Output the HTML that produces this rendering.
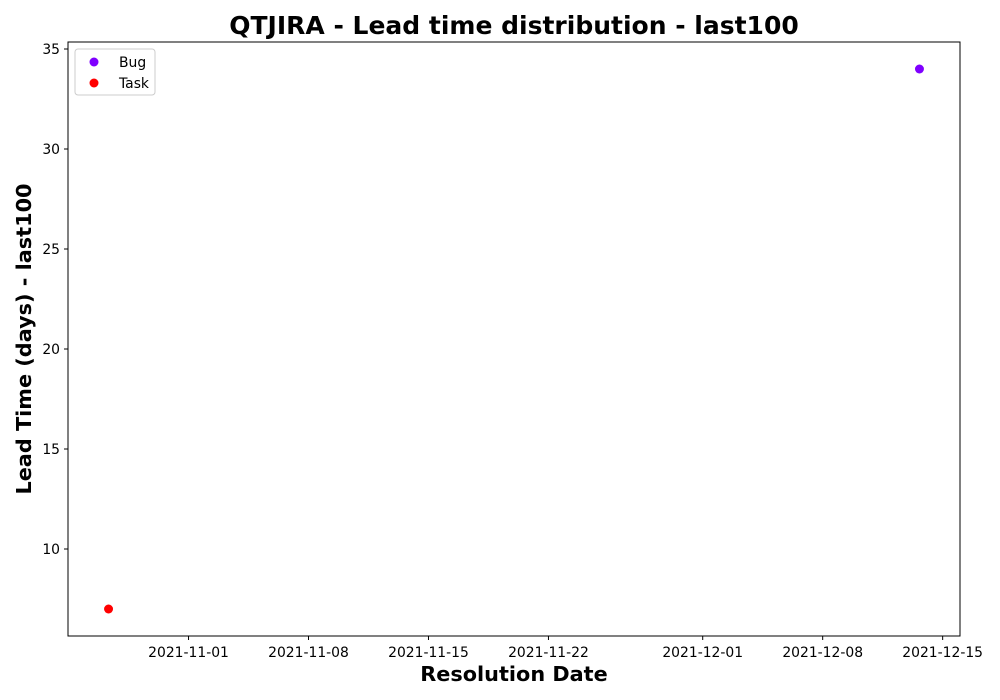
<!DOCTYPE html>
<html><head><meta charset="utf-8"><style>
html,body{margin:0;padding:0;background:#fff;}
svg{display:block;font-family:"DejaVu Sans","Liberation Sans",sans-serif;}
</style></head><body>
<svg id="chart" width="1000" height="700">
<text x="514" y="34" text-anchor="middle" font-size="25" font-weight="bold">QTJIRA - Lead time distribution - last100</text>
<text x="514" y="681" text-anchor="middle" font-size="20.8" font-weight="bold">Resolution Date</text>
<text transform="translate(31,339) rotate(-90)" text-anchor="middle" font-size="20.8" font-weight="bold">Lead Time (days) - last100</text>
<g id="plot"></g>
</svg>
<script>
const seriesNames = ["Bug", "Task"];
const seriesColors = ["#7f00ff", "#ff0000"];
const bugDates = ["2021-12-13T15:30:00Z"];
const bugValues = [34];
const taskDates = ["2021-10-27T08:00:00Z"];
const taskValues = [7];
const xTickLabels = ["2021-11-01","2021-11-08","2021-11-15","2021-11-22","2021-12-01","2021-12-08","2021-12-15"];
const yTickValues = [10, 15, 20, 25, 30, 35];

const L=68,R=960,T=42,B=636;
const ns="http://www.w3.org/2000/svg";
const g=document.getElementById("plot");
function mk(tag,attrs){const e=document.createElementNS(ns,tag);for(const k in attrs)e.setAttribute(k,attrs[k]);g.appendChild(e);return e;}
const allT=[...bugDates,...taskDates].map(d=>Date.parse(d));
const allV=[...bugValues,...taskValues];
let tmin=Math.min(...allT),tmax=Math.max(...allT),tr=tmax-tmin;tmin-=tr*0.05;tmax+=tr*0.05;
let vmin=Math.min(...allV),vmax=Math.max(...allV),vr=vmax-vmin;vmin-=vr*0.05;vmax+=vr*0.05;
const xs=t=>L+(t-tmin)/(tmax-tmin)*(R-L);
const ys=v=>B-(v-vmin)/(vmax-vmin)*(B-T);

const frame=mk("rect",{x:L,y:T,width:R-L,height:B-T,fill:"none",stroke:"#000","stroke-width":1});



xTickLabels.forEach(lbl=>{
  const x=xs(Date.parse(lbl+"T00:00:00Z"));
  if(x<L||x>R)return;
  const tk=mk("line",{x1:x,x2:x,y1:B,y2:B+4,stroke:"#000"});
  
  
  const tx=mk("text",{x:x,y:B+21,"text-anchor":"middle","font-size":13.9});
  tx.textContent=lbl;
  
  
});
yTickValues.forEach(v=>{
  const y=ys(v);
  if(y<T-1||y>B)return;
  const tk=mk("line",{x1:L-4,x2:L,y1:y,y2:y,stroke:"#000"});
  
  
  const tx=mk("text",{x:L-8,y:y+5,"text-anchor":"end","font-size":13.9});
  tx.textContent=v;
  
  
});
[[bugDates,bugValues,seriesColors[0],"bug-point"],[taskDates,taskValues,seriesColors[1],"task-point"]].forEach(([ds,vs,c,n])=>{
  ds.forEach((d,i)=>{
    const p=mk("circle",{cx:xs(Date.parse(d)),cy:ys(vs[i]),r:4.5,fill:c});
    
    
  });
});
const lg=mk("rect",{x:75,y:49,width:80,height:46,rx:3,fill:"#fff",stroke:"#ccc"});


seriesNames.forEach((nm,i)=>{
  const y=62+i*21;
  const m=mk("circle",{cx:94,cy:y,r:4.5,fill:seriesColors[i]});
  
  
  const t=mk("text",{x:119,y:y+5,"font-size":13.9});
  t.textContent=nm;
  
  
});
</script>
</body></html>
